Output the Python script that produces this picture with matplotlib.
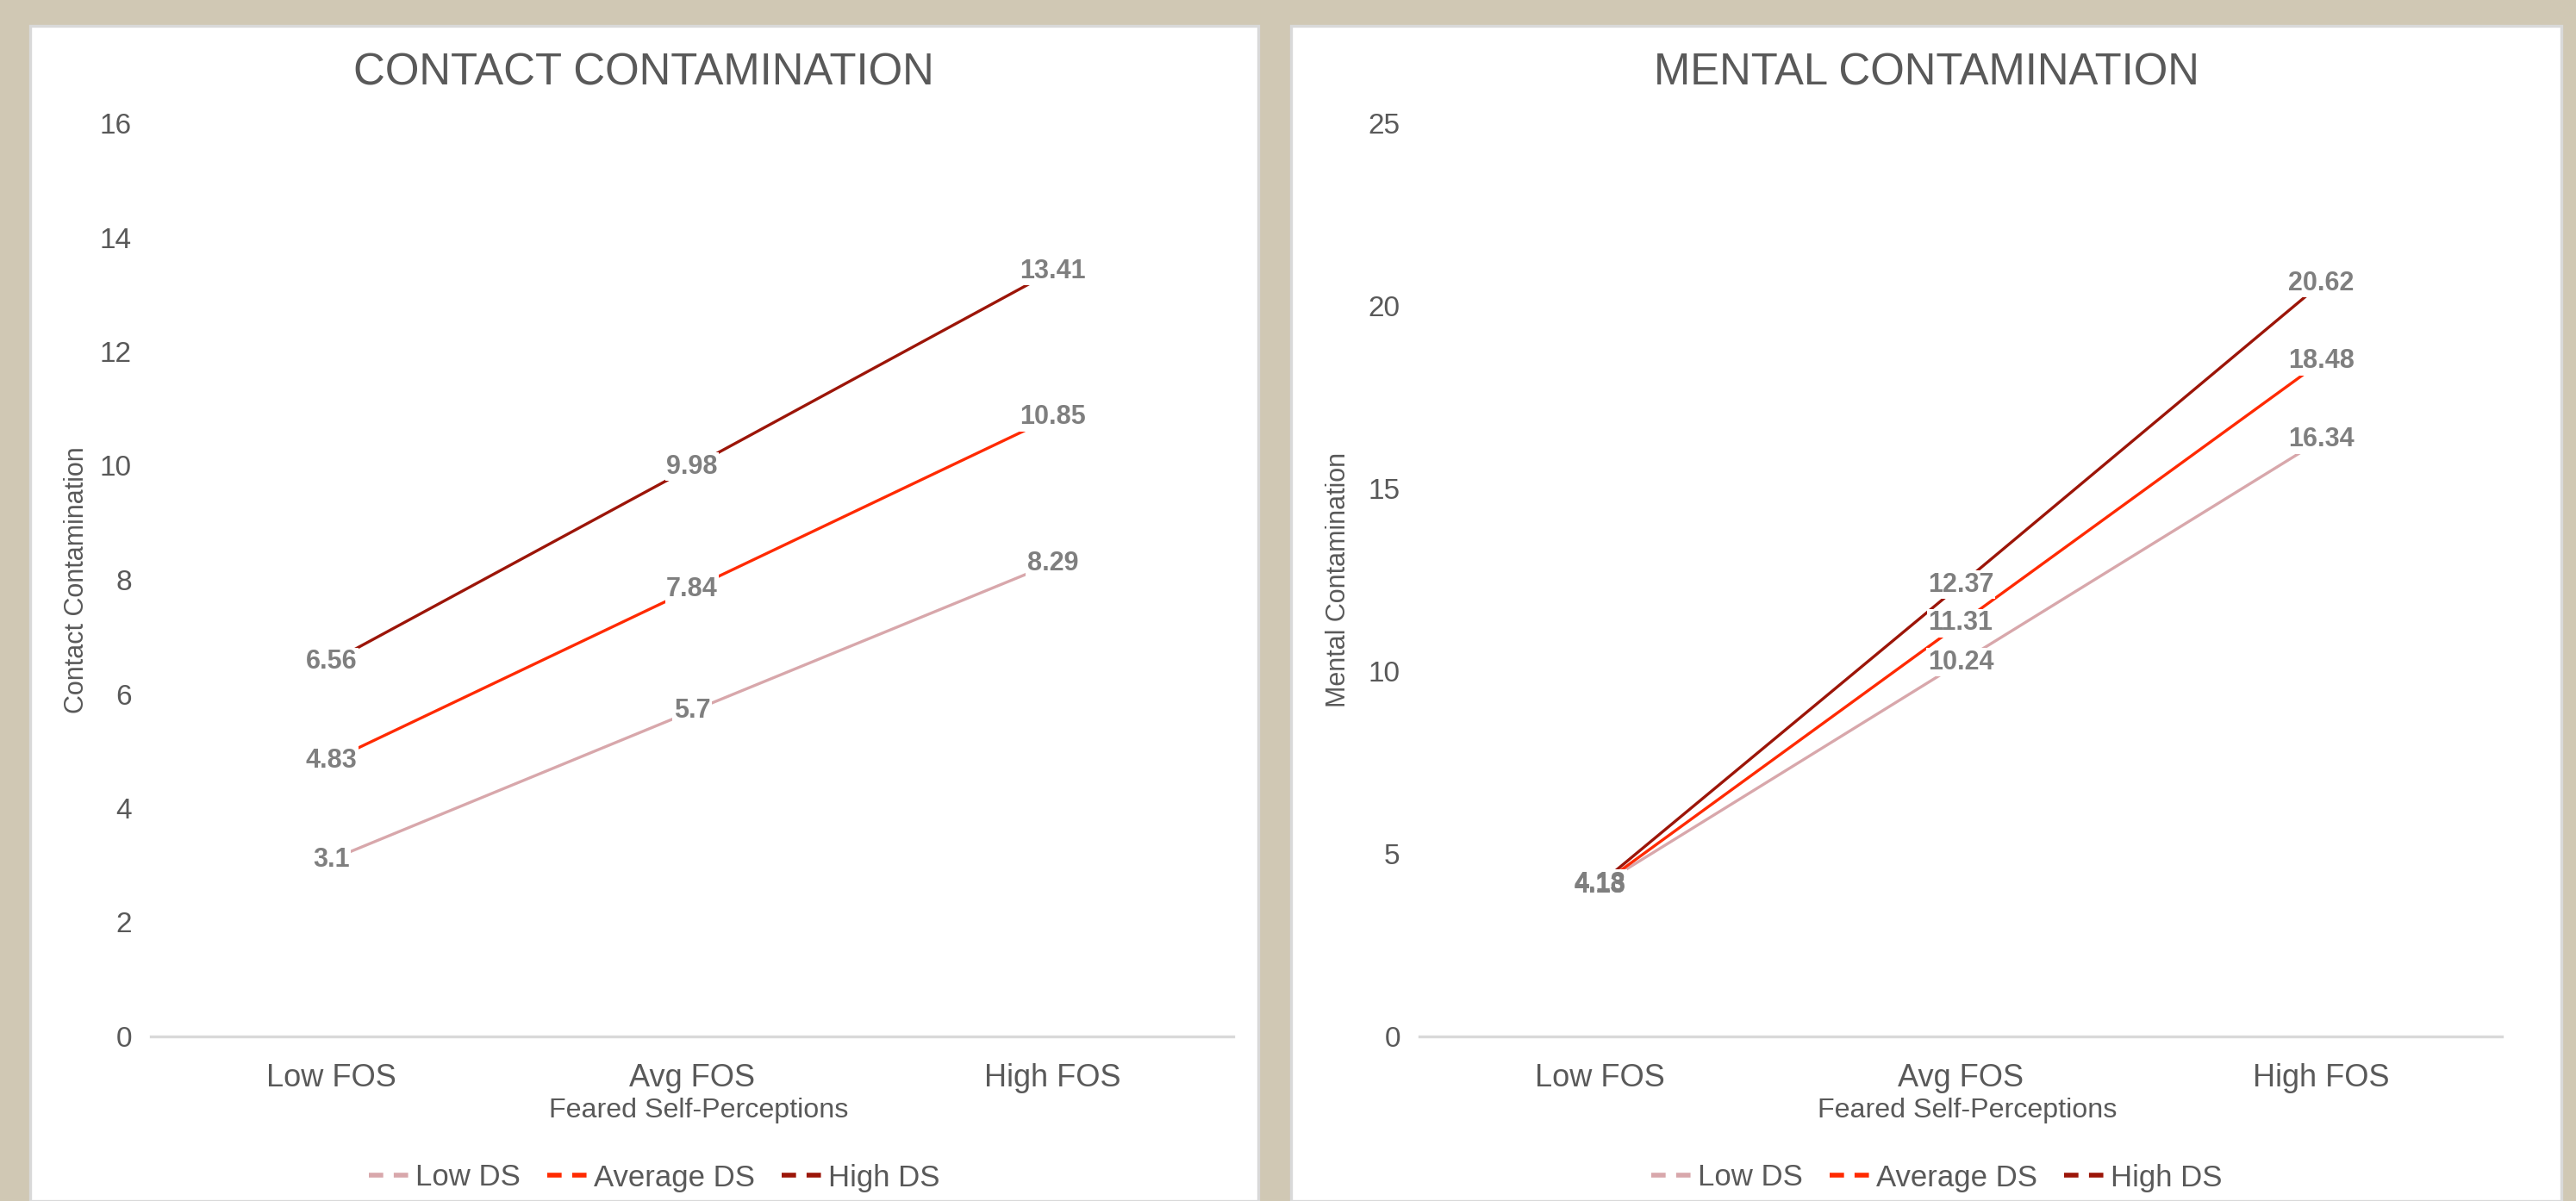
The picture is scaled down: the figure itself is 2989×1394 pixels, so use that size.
import matplotlib
matplotlib.use("Agg")
import matplotlib.pyplot as plt
from matplotlib.patches import Rectangle
from matplotlib.lines import Line2D

plt.rcParams['font.family'] = ['Liberation Sans', 'DejaVu Sans']

categories = ["Low FOS", "Avg FOS", "High FOS"]
series_names = ["Low DS", "Average DS", "High DS"]

contact_low = [3.1, 5.7, 8.29]
contact_avg = [4.83, 7.84, 10.85]
contact_high = [6.56, 9.98, 13.41]

mental_low = [4.13, 10.24, 16.34]
mental_avg = [4.13, 11.31, 18.48]
mental_high = [4.18, 12.37, 20.62]

contact_ticks = [0, 2, 4, 6, 8, 10, 12, 14, 16]
mental_ticks = [0, 5, 10, 15, 20, 25]

colors = ["#D8A7AB", "#FF2A00", "#9C1508"]
TEXT = "#595959"
LABEL = "#7F7F7F"
BG = "#D0C8B4"

W, H = 2989, 1394
DPI = 200
fig = plt.figure(figsize=(W / DPI, H / DPI), dpi=DPI, facecolor=BG)


def fx(px):
    return px / W


def fy(py):
    return 1 - py / H


# white card panels behind each chart
for x0, x1 in [(35, 1460), (1498, 2972)]:
    fig.patches.append(Rectangle((fx(x0), 0), fx(x1 - x0), fy(30),
                                 transform=fig.transFigure, facecolor="white",
                                 edgecolor="#D9D9D9", linewidth=1.2, zorder=-10))

AX_W = 1256


def draw_panel(ax_left, title, ylabel, ylabel_x, series, ticks, panel_cx):
    ax = fig.add_axes([fx(ax_left), fy(1203), fx(AX_W), fy(143) - fy(1203)])
    ax.set_zorder(2)
    ax.set_facecolor("none")
    xs = list(range(len(categories)))
    for vals, col in zip(series, colors):
        ax.plot(xs, vals, color=col, linewidth=1.2, solid_capstyle="butt", zorder=2)
    label_style = dict(ha="center", va="center", fontsize=11, fontweight="bold")
    for vals in series:
        for x, v in zip(xs, vals):
            # white box masking the line under the value label
            ax.text(x, v, f"{v:g}", color="none", zorder=3,
                    bbox=dict(boxstyle="square,pad=0.05", facecolor="white",
                              edgecolor="none"), **label_style)
            ax.text(x, v, f"{v:g}", color=LABEL, zorder=4, **label_style)
    ax.set_xlim(-0.5, 2.5)
    ax.set_ylim(ticks[0], ticks[-1])
    ax.set_yticks(ticks)
    ax.set_yticklabels([str(t) for t in ticks], fontsize=12, color=TEXT)
    ax.set_xticks(xs)
    ax.set_xticklabels(categories, fontsize=13, color=TEXT)
    ax.tick_params(length=0)
    ax.tick_params(axis="y", pad=8)
    ax.tick_params(axis="x", pad=11)
    for s in ["top", "right", "left"]:
        ax.spines[s].set_visible(False)
    ax.spines["bottom"].set_color("#D9D9D9")
    ax.spines["bottom"].set_linewidth(1.2)
    fig.text(fx(panel_cx), fy(85), title, ha="center", va="center",
             fontsize=18.3, color=TEXT)
    fig.text(fx(ax_left + AX_W / 2 + 8), fy(1289), "Feared Self-Perceptions",
             ha="center", va="center", fontsize=11.6, color=TEXT)
    fig.text(fx(ylabel_x), fy(673), ylabel, ha="center", va="center",
             rotation=90, fontsize=11, color=TEXT)
    handles = [Line2D([], [], color=c, linewidth=2.0, dashes=(3, 2.2))
               for c in colors]
    fig.legend(handles, series_names, loc="center",
               bbox_to_anchor=(fx(panel_cx + 12), fy(1367)), ncol=3,
               frameon=False, fontsize=12.5, handlelength=1.5,
               handletextpad=0.05, columnspacing=0.9,
               labelcolor=TEXT)
    return ax


draw_panel(175, "CONTACT CONTAMINATION", "Contact Contamination", 89,
           [contact_low, contact_avg, contact_high], contact_ticks, 747)
draw_panel(1647, "MENTAL CONTAMINATION", "Mental Contamination", 1553,
           [mental_low, mental_avg, mental_high], mental_ticks, 2235)

fig.savefig("out.png", dpi=DPI, facecolor=BG)
